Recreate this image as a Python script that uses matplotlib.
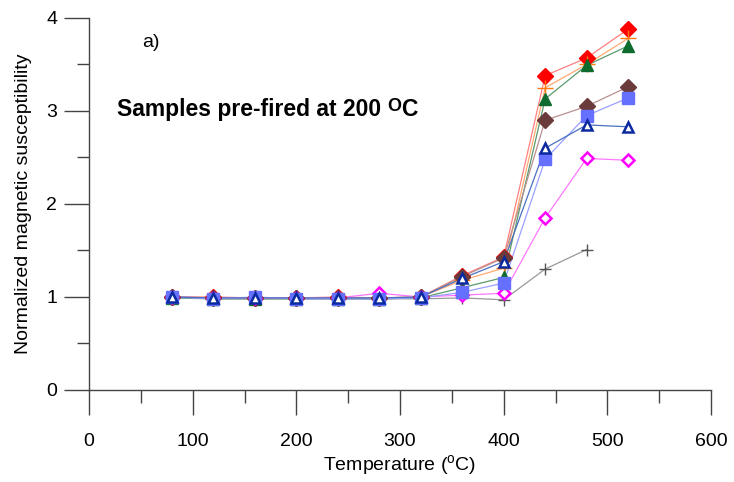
import matplotlib
matplotlib.use("Agg")
import matplotlib.pyplot as plt
from matplotlib.ticker import MultipleLocator

plt.rcParams['font.family'] = ['Liberation Sans', 'DejaVu Sans']
plt.rcParams['mathtext.fontset'] = 'custom'
plt.rcParams['mathtext.rm'] = 'Liberation Sans'
plt.rcParams['mathtext.bf'] = 'Liberation Sans:bold'

temps = [80, 120, 160, 200, 240, 280, 320, 360, 400, 440, 480, 520]
temps_gray = [80, 120, 160, 200, 240, 280, 320, 360, 400, 440, 480]

s_red = [1.00, 1.00, 0.99, 0.99, 1.00, 0.99, 1.00, 1.23, 1.43, 3.38, 3.57, 3.88]
s_orange = [1.00, 0.99, 0.99, 0.99, 0.99, 0.99, 1.00, 1.18, 1.31, 3.25, 3.50, 3.78]
s_green = [0.99, 0.98, 0.98, 0.98, 0.98, 0.98, 0.99, 1.10, 1.21, 3.13, 3.49, 3.70]
s_brown = [1.00, 0.99, 0.99, 0.99, 0.99, 0.99, 1.00, 1.22, 1.42, 2.90, 3.05, 3.26]
s_blue = [1.00, 0.98, 1.00, 0.98, 0.98, 0.98, 0.99, 1.05, 1.15, 2.48, 2.95, 3.14]
s_navy = [1.00, 0.99, 0.99, 0.99, 0.99, 0.99, 1.00, 1.20, 1.38, 2.60, 2.85, 2.83]
s_magenta = [1.00, 0.99, 0.99, 0.99, 0.99, 1.04, 1.00, 1.02, 1.04, 1.85, 2.49, 2.47]
s_gray = [1.00, 0.98, 0.98, 0.98, 0.98, 0.98, 0.98, 0.99, 0.97, 1.30, 1.51]

fig = plt.figure(figsize=(7.34, 4.82), dpi=100)
ax = fig.add_axes([0.1213, 0.1909, 0.8474, 0.7718])

series = [
    (temps_gray, s_gray, '+', '#555555', '#999999', 'none', 9),
    (temps, s_red, 'D', '#ff0000', '#ff8080', '#ff0000', 8),
    (temps, s_orange, '+', '#ff7a10', '#ffaa70', 'none', 12),
    (temps, s_green, '^', '#0e6b2e', '#5a9a6e', '#0e6b2e', 9),
    (temps, s_brown, 'D', '#6b3a3a', '#b89090', '#6b3a3a', 8),
    (temps, s_magenta, 'D', '#ff00ff', '#ff77ff', 'white', 6.5),
    (temps, s_blue, 's', '#6670ff', '#9aa0ff', '#6670ff', 9),
    (temps, s_navy, '^', '#0a2aa0', '#4a70c0', 'white', 7),
]
for xs, ys, m, mc, lc, fc, ms in series:
    ax.plot(xs, ys, color=lc, lw=0.9, zorder=2)
    ax.plot(xs, ys, linestyle='none', marker=m, markersize=ms,
            markeredgecolor=mc, markerfacecolor=fc if fc != 'none' else mc,
            markeredgewidth=1.8 if fc == 'white' else 1.0, zorder=3)

ax.set_xlim(0, 600)
ax.set_ylim(0, 4)
ax.spines['top'].set_visible(False)
ax.spines['right'].set_visible(False)
for sp in ('left', 'bottom'):
    ax.spines[sp].set_color('#444444')
    ax.spines[sp].set_linewidth(1.0)
ax.xaxis.set_major_locator(MultipleLocator(100))
ax.xaxis.set_minor_locator(MultipleLocator(50))
ax.yaxis.set_major_locator(MultipleLocator(1))
ax.yaxis.set_minor_locator(MultipleLocator(0.5))
ax.tick_params(which='major', direction='out', length=18, width=1.0, color='#444444',
               labelsize=14, pad=5)
ax.tick_params(which='minor', direction='out', length=9, width=1.0, color='#444444')
ax.tick_params(axis='x', which='major', pad=13)

ax.set_xlabel('Temperature ($^{\\rm o}$C)', fontsize=14, labelpad=2)
ax.set_ylabel('Normalized magnetic susceptibility', fontsize=14, labelpad=10)

ax.text(0.085, 0.935, 'a)', transform=ax.transAxes, fontsize=14, ha='left', va='center')
t = ax.text(0.045, 0.755, 'Samples pre-fired at 200 ', transform=ax.transAxes,
            fontsize=16.5, fontweight='bold', ha='left', va='center')
t2 = ax.annotate('O', xy=(1, 0), xycoords=t, xytext=(0, 4), textcoords='offset points',
                 fontsize=13, fontweight='bold', ha='left', va='bottom')
ax.annotate('C', xy=(1, 0), xycoords=t2, xytext=(0, -4), textcoords='offset points',
            fontsize=16.5, fontweight='bold', ha='left', va='bottom')

fig.savefig('out.png', dpi=100)
